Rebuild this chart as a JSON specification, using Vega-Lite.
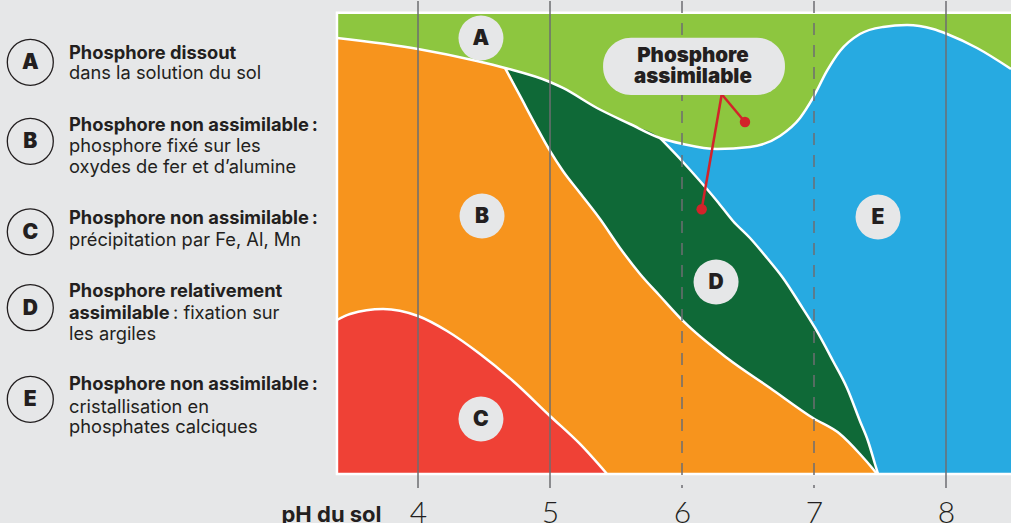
{
  "$schema": "https://vega.github.io/schema/vega-lite/v6.json",
  "background": "#e6e7e8",
  "padding": 0,
  "spacing": 0,
  "bounds": "flush",
  "config": {"view": {"stroke": null}, "font": "Inter"},
  "datasets": {
    "edges": [
      {"edge":"T","ph":3.386,"lvl":94.54},{"edge":"T","ph":4.0,"lvl":92.16},{"edge":"T","ph":4.447,"lvl":89.55},{"edge":"T","ph":4.659,"lvl":88.04},{"edge":"T","ph":5.0,"lvl":85.0},{"edge":"T","ph":5.098,"lvl":83.7},{"edge":"T","ph":5.356,"lvl":79.36},{"edge":"T","ph":5.606,"lvl":75.89},{"edge":"T","ph":5.833,"lvl":72.86},{"edge":"T","ph":6.008,"lvl":71.56},{"edge":"T","ph":6.265,"lvl":70.47},{"edge":"T","ph":6.515,"lvl":70.91},{"edge":"T","ph":6.742,"lvl":73.29},{"edge":"T","ph":6.894,"lvl":77.19},{"edge":"T","ph":6.992,"lvl":81.53},{"edge":"T","ph":7.098,"lvl":87.39},{"edge":"T","ph":7.197,"lvl":91.72},{"edge":"T","ph":7.348,"lvl":95.41},{"edge":"T","ph":7.523,"lvl":96.93},{"edge":"T","ph":7.705,"lvl":97.36},{"edge":"T","ph":7.902,"lvl":96.49},{"edge":"T","ph":8.008,"lvl":95.41},{"edge":"T","ph":8.235,"lvl":92.37},{"edge":"T","ph":8.4924,"lvl":87.82},
      {"edge":"BD","ph":4.659,"lvl":88.04},{"edge":"BD","ph":4.773,"lvl":81.97},{"edge":"BD","ph":4.886,"lvl":75.89},{"edge":"BD","ph":5.0,"lvl":70.04},{"edge":"BD","ph":5.098,"lvl":65.7},{"edge":"BD","ph":5.227,"lvl":60.93},{"edge":"BD","ph":5.379,"lvl":55.29},{"edge":"BD","ph":5.53,"lvl":49.01},{"edge":"BD","ph":5.682,"lvl":43.37},{"edge":"BD","ph":5.833,"lvl":38.6},{"edge":"BD","ph":6.008,"lvl":33.18},{"edge":"BD","ph":6.341,"lvl":25.15},{"edge":"BD","ph":6.667,"lvl":18.65},{"edge":"BD","ph":6.992,"lvl":12.14},{"edge":"BD","ph":7.197,"lvl":8.67},{"edge":"BD","ph":7.348,"lvl":4.34},{"edge":"BD","ph":7.447,"lvl":1.08},{"edge":"BD","ph":7.477,"lvl":0},
      {"edge":"DE","ph":5.833,"lvl":72.86},{"edge":"DE","ph":6.0,"lvl":67.87},{"edge":"DE","ph":6.136,"lvl":63.53},{"edge":"DE","ph":6.265,"lvl":59.2},{"edge":"DE","ph":6.386,"lvl":54.86},{"edge":"DE","ph":6.515,"lvl":51.17},{"edge":"DE","ph":6.644,"lvl":46.84},{"edge":"DE","ph":6.765,"lvl":42.5},{"edge":"DE","ph":6.894,"lvl":36.86},{"edge":"DE","ph":7.008,"lvl":31.66},{"edge":"DE","ph":7.144,"lvl":24.5},{"edge":"DE","ph":7.25,"lvl":18.65},{"edge":"DE","ph":7.348,"lvl":11.49},{"edge":"DE","ph":7.409,"lvl":7.16},{"edge":"DE","ph":7.462,"lvl":2.17},{"edge":"DE","ph":7.485,"lvl":0},
      {"edge":"C","ph":3.386,"lvl":33.39},{"edge":"C","ph":3.485,"lvl":34.69},{"edge":"C","ph":3.735,"lvl":35.78},{"edge":"C","ph":4.0,"lvl":34.26},{"edge":"C","ph":4.22,"lvl":31.01},{"edge":"C","ph":4.47,"lvl":26.02},{"edge":"C","ph":4.72,"lvl":20.17},{"edge":"C","ph":5.0,"lvl":12.58},{"edge":"C","ph":5.227,"lvl":6.51},{"edge":"C","ph":5.432,"lvl":0}
    ],
    "labels": [
      {"k":"A","ph":4.477,"lvl":94.54},{"k":"B","ph":4.485,"lvl":55.94},{"k":"C","ph":4.477,"lvl":11.93},{"k":"D","ph":6.258,"lvl":41.63},{"k":"E","ph":7.485,"lvl":55.73}
    ],
    "pointers": [
      {"id":"p1","ph":6.301,"lvl":82.33,"tip":false},{"id":"p1","ph":6.477,"lvl":76.32,"tip":true},
      {"id":"p2","ph":6.301,"lvl":82.33,"tip":false},{"id":"p2","ph":6.149,"lvl":57.39,"tip":true}
    ],
    "frame": [{"zone":"A","from":3.386,"to":8.6,"lo":0,"hi":100}],
    "keys": [
      {"k":"A","col":30.3,"pos":61.3},{"k":"B","col":30.3,"pos":140.3},{"k":"C","col":30.3,"pos":230.8},{"k":"D","col":30.3,"pos":306.7},{"k":"E","col":30.3,"pos":398.3}
    ],
    "legend": [
      {"k":"A","col":69,"pos":58.3,"txt":"Phosphore dissout","w":"b"},
      {"k":"A","col":69,"pos":77.7,"txt":"dans la solution du sol","w":"r"},
      {"k":"B","col":69,"pos":130,"txt":"Phosphore non assimilable\u2009:","w":"b"},
      {"k":"B","col":69,"pos":150.7,"txt":"phosphore fixé sur les","w":"r"},
      {"k":"B","col":69,"pos":171.7,"txt":"oxydes de fer et d’alumine","w":"r"},
      {"k":"C","col":69,"pos":223.3,"txt":"Phosphore non assimilable\u2009:","w":"b"},
      {"k":"C","col":69,"pos":245,"txt":"précipitation par Fe, Al, Mn","w":"r"},
      {"k":"D","col":69,"pos":296,"txt":"Phosphore relativement","w":"b"},
      {"k":"D","col":69,"pos":318.3,"txt":"assimilable","w":"b"},
      {"k":"D","col":173,"pos":318.3,"txt":": fixation sur","w":"r"},
      {"k":"D","col":69,"pos":339,"txt":"les argiles","w":"r"},
      {"k":"E","col":69,"pos":389.3,"txt":"Phosphore non assimilable\u2009:","w":"b"},
      {"k":"E","col":69,"pos":411.7,"txt":"cristallisation en","w":"r"},
      {"k":"E","col":69,"pos":432.3,"txt":"phosphates calciques","w":"r"}
    ]
  },
  "hconcat": [
    {
      "width": 330,
      "height": 487,
      "layer": [
        {
          "data": {"name": "keys"},
          "mark": {"type": "point", "shape": "circle", "filled": false, "stroke": "#231f20", "strokeWidth": 1.3, "size": 2116, "opacity": 1},
          "encoding": {
            "x": {"field": "col", "type": "quantitative", "scale": {"domain": [0, 330], "nice": false, "zero": false}, "axis": null},
            "y": {"field": "pos", "type": "quantitative", "scale": {"domain": [0, 487], "reverse": true, "nice": false, "zero": false}, "axis": null}
          }
        },
        {
          "data": {"name": "keys"},
          "mark": {"type": "text", "font": "Inter", "fontWeight": 900, "fontSize": 21, "color": "#231f20", "align": "center", "baseline": "middle", "dy": 1},
          "encoding": {
            "x": {"field": "col", "type": "quantitative"},
            "y": {"field": "pos", "type": "quantitative"},
            "text": {"field": "k"}
          }
        },
        {
          "data": {"name": "legend"},
          "transform": [{"filter": "datum.w == 'b'"}],
          "mark": {"type": "text", "font": "Inter", "fontWeight": "bold", "fontSize": 18.3, "color": "#231f20", "align": "left", "baseline": "alphabetic"},
          "encoding": {
            "x": {"field": "col", "type": "quantitative"},
            "y": {"field": "pos", "type": "quantitative"},
            "text": {"field": "txt"}
          }
        },
        {
          "data": {"name": "legend"},
          "transform": [{"filter": "datum.w == 'r'"}],
          "mark": {"type": "text", "font": "Inter", "fontWeight": "normal", "fontSize": 18.3, "color": "#231f20", "align": "left", "baseline": "alphabetic"},
          "encoding": {
            "x": {"field": "col", "type": "quantitative"},
            "y": {"field": "pos", "type": "quantitative"},
            "text": {"field": "txt"}
          }
        }
      ]
    },
    {
      "width": 681,
      "height": 487,
      "layer": [
        {
          "data": {"name": "frame"},
          "mark": {"type": "rect", "color": "#8dc63f", "clip": true},
          "encoding": {
            "x": {"field": "from", "type": "quantitative", "scale": {"domain": [3.3333, 8.4924], "nice": false, "zero": false},
              "axis": {"values": [4, 5, 6, 7, 8], "format": "d", "domain": false, "ticks": false, "tickSize": 0, "grid": false,
                "labelFont": "Lato", "labelFontSize": 30, "labelFontWeight": 300, "labelColor": "#231f20", "labelPadding": 34, "labelBaseline": "alphabetic", "labelFlush": false,
                "title": "pH du sol", "titleFont": "Inter", "titleFontSize": 22, "titleFontWeight": "bold", "titleColor": "#231f20", "titleX": -49, "titleY": 33, "titleAlign": "left", "titleBaseline": "alphabetic"}},
            "x2": {"field": "to"},
            "y": {"field": "lo", "type": "quantitative", "scale": {"domain": [-3.036, 102.56], "nice": false, "zero": false}, "axis": null},
            "y2": {"field": "hi"}
          }
        },
        {
          "data": {"name": "edges"},
          "transform": [{"filter": "datum.edge == 'T' && datum.ph >= 5.6"}],
          "mark": {"type": "area", "color": "#27aae1", "interpolate": "monotone", "opacity": 1},
          "encoding": {
            "x": {"field": "ph", "type": "quantitative"},
            "y": {"field": "lvl", "type": "quantitative"},
            "y2": {"datum": 0}
          }
        },
        {
          "data": {"name": "edges"},
          "transform": [{"filter": "(datum.edge == 'T' && datum.ph >= 4.4 && datum.ph <= 5.84) || (datum.edge == 'DE' && datum.ph > 5.84)"}],
          "mark": {"type": "area", "color": "#0f6937", "interpolate": "monotone", "opacity": 1},
          "encoding": {
            "x": {"field": "ph", "type": "quantitative"},
            "y": {"field": "lvl", "type": "quantitative"},
            "y2": {"datum": 0}
          }
        },
        {
          "data": {"name": "edges"},
          "transform": [{"filter": "(datum.edge == 'T' && datum.ph <= 4.66) || (datum.edge == 'BD' && datum.ph > 4.66)"}],
          "mark": {"type": "area", "color": "#f7941d", "interpolate": "monotone", "opacity": 1},
          "encoding": {
            "x": {"field": "ph", "type": "quantitative"},
            "y": {"field": "lvl", "type": "quantitative"},
            "y2": {"datum": 0}
          }
        },
        {
          "data": {"name": "edges"},
          "transform": [{"filter": "datum.edge == 'C'"}],
          "mark": {"type": "area", "color": "#ef4136", "interpolate": "monotone", "opacity": 1},
          "encoding": {
            "x": {"field": "ph", "type": "quantitative"},
            "y": {"field": "lvl", "type": "quantitative"},
            "y2": {"datum": 0}
          }
        },
        {
          "data": {"name": "edges"},
          "mark": {"type": "line", "color": "#ffffff", "strokeWidth": 2.5, "interpolate": "monotone"},
          "encoding": {
            "x": {"field": "ph", "type": "quantitative"},
            "y": {"field": "lvl", "type": "quantitative"},
            "detail": {"field": "edge"}
          }
        },
        {
          "data": {"name": "frame"},
          "mark": {"type": "rect", "filled": false, "color": "#ffffff", "strokeWidth": 2.5, "clip": true},
          "encoding": {
            "x": {"field": "from", "type": "quantitative"},
            "x2": {"field": "to"},
            "y": {"field": "lo", "type": "quantitative"},
            "y2": {"field": "hi"}
          }
        },
        {
          "data": {"values": [{"ph": 4, "style": "solid"}, {"ph": 5, "style": "solid"}, {"ph": 6, "style": "dashed"}, {"ph": 7, "style": "dashed"}, {"ph": 8, "style": "solid"}]},
          "mark": {"type": "rule", "color": "#6d6e71", "strokeWidth": 1.5},
          "encoding": {
            "x": {"field": "ph", "type": "quantitative"},
            "strokeDash": {"field": "style", "type": "nominal", "scale": {"domain": ["solid", "dashed"], "range": [[1, 0], [12, 10]]}, "legend": null}
          }
        },
        {
          "data": {"name": "labels"},
          "mark": {"type": "point", "shape": "circle", "filled": true, "color": "#e6e7e8", "size": 2025, "opacity": 1},
          "encoding": {
            "x": {"field": "ph", "type": "quantitative"},
            "y": {"field": "lvl", "type": "quantitative"}
          }
        },
        {
          "data": {"name": "labels"},
          "mark": {"type": "text", "font": "Inter", "fontWeight": 900, "fontSize": 21, "color": "#231f20", "align": "center", "baseline": "middle", "dy": 1},
          "encoding": {
            "x": {"field": "ph", "type": "quantitative"},
            "y": {"field": "lvl", "type": "quantitative"},
            "text": {"field": "k"}
          }
        },
        {
          "data": {"name": "pointers"},
          "mark": {"type": "line", "color": "#d2232a", "strokeWidth": 2.5},
          "encoding": {
            "x": {"field": "ph", "type": "quantitative"},
            "y": {"field": "lvl", "type": "quantitative"},
            "detail": {"field": "id"}
          }
        },
        {
          "data": {"name": "pointers"},
          "transform": [{"filter": "datum.tip"}],
          "mark": {"type": "point", "shape": "circle", "filled": true, "color": "#d2232a", "size": 110, "opacity": 1},
          "encoding": {
            "x": {"field": "ph", "type": "quantitative"},
            "y": {"field": "lvl", "type": "quantitative"}
          }
        },
        {
          "data": {"values": [{"ph1": 5.402, "ph2": 6.78, "l1": 82.2, "l2": 94.6}]},
          "mark": {"type": "rect", "color": "#e6e7e8", "cornerRadius": 28, "opacity": 1},
          "encoding": {
            "x": {"field": "ph1", "type": "quantitative"},
            "x2": {"field": "ph2"},
            "y": {"field": "l1", "type": "quantitative"},
            "y2": {"field": "l2"}
          }
        },
        {
          "data": {"values": [{"txt": "Phosphore", "ph": 6.083, "lvl": 89.4}, {"txt": "assimilable", "ph": 6.083, "lvl": 84.84}]},
          "mark": {"type": "text", "font": "Inter", "fontWeight": 900, "fontSize": 20.5, "color": "#231f20", "align": "center", "baseline": "alphabetic"},
          "encoding": {
            "x": {"field": "ph", "type": "quantitative"},
            "y": {"field": "lvl", "type": "quantitative"},
            "text": {"field": "txt"}
          }
        }
      ]
    }
  ]
}
